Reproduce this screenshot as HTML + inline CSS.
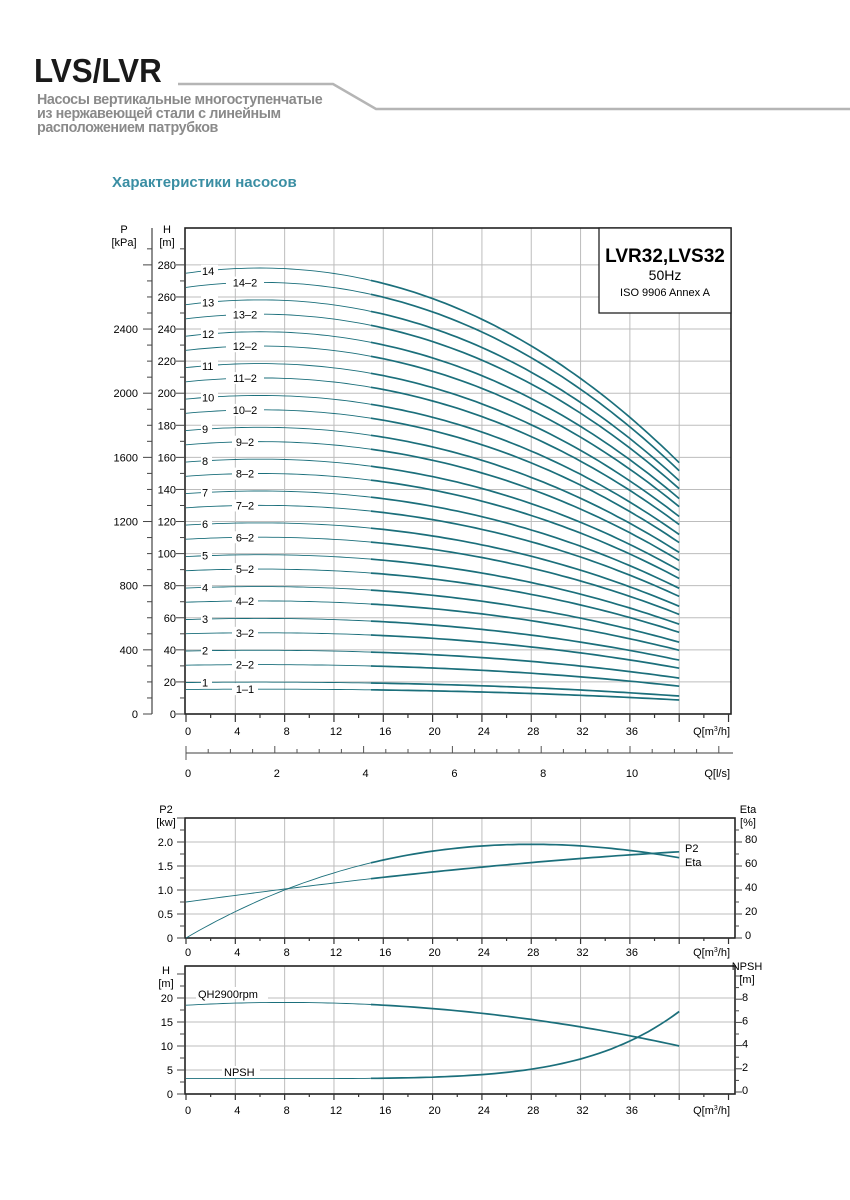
<!DOCTYPE html>
<html><head><meta charset="utf-8">
<style>
html,body{margin:0;padding:0;background:#fff;}
body{width:850px;height:1200px;position:relative;overflow:hidden;font-family:"Liberation Sans",sans-serif;}
.t{position:absolute;white-space:nowrap;}
</style></head>
<body>
<div class="t" style="left:34px;top:52px;font-size:33px;font-weight:bold;color:#1a1a1a;transform:scaleX(0.95);transform-origin:left;">LVS/LVR</div>
<svg style="position:absolute;left:0;top:0" width="850" height="200">
<polyline points="178,84 333,84 376,109 850,109" fill="none" stroke="#b5b5b5" stroke-width="2.5"/>
</svg>
<div class="t" style="left:37px;top:93px;font-size:14.3px;font-weight:bold;color:#8a8a8a;line-height:14px;letter-spacing:-0.4px;">Насосы вертикальные многоступенчатые<br>из нержавеющей стали с линейным<br>расположением патрубков</div>
<div class="t" style="left:112px;top:174px;font-size:15px;font-weight:bold;color:#3a8ea3;">Характеристики насосов</div>
<svg id="s" style="position:absolute;left:0;top:0" width="850" height="1200" font-family="Liberation Sans, sans-serif"></svg>
<script>
var s=document.getElementById('s'),h='';
var C='#1b6f7b';
function X(q){return 186+q*12.33;}
function L(x1,y1,x2,y2,c,w){h+='<line x1="'+x1+'" y1="'+y1+'" x2="'+x2+'" y2="'+y2+'" stroke="'+c+'" stroke-width="'+w+'"/>';}
function T(x,y,t,sz,anc,extra){h+='<text x="'+x+'" y="'+y+'" font-size="'+sz+'" text-anchor="'+(anc||'start')+'" '+(extra||'')+'>'+t+'</text>';}
function path(f,yf,q0,q1,w){var d='';for(var q=q0;q<=q1+1e-9;q+=0.5){d+=(d?'L':'M')+X(q).toFixed(1)+','+yf(f(q)).toFixed(1);}h+='<path d="'+d+'" fill="none" stroke="'+C+'" stroke-width="'+w+'"/>';}
function curve(f,yf){path(f,yf,0,15,0.9);path(f,yf,15,40,1.7);}
// ===== main chart
var Y=function(H){return 714-H*1.604;};
var gray='#bdbdbd';
for(var q=4;q<=40;q+=4)L(X(q),228,X(q),714,gray,1);
for(var H=20;H<=280;H+=20)L(185,Y(H),731,Y(H),gray,1);
h+='<rect x="185" y="228" width="546" height="486" fill="none" stroke="#222" stroke-width="1.6"/>';
for(var H=0;H<=290;H+=10){L(H%20?180:176,Y(H),185,Y(H),'#444',1);}
for(var H=0;H<=280;H+=20)T(176,Y(H)+4,H,11,'end');
T(167,233,'H',11,'middle');T(167,246,'[m]',11,'middle');
L(152,228,152,714,'#444',1.2);
for(var P=0;P<=2900;P+=100){var y=714-P*0.1604;L(P%400?147:143,y,152,y,'#444',1);}
for(var P=0;P<=2400;P+=400)T(138,714-P*0.1604+4,P,11,'end');
T(124,233,'P',11,'middle');T(124,246,'[kPa]',11,'middle');
for(var q=0;q<=44;q+=2)L(X(q),714,X(q),q%4?718:722,'#333',1.2);
for(var q=0;q<=36;q+=4)T(X(q)+2,735,q,11,'middle');
T(730,735,'Q[m<tspan font-size="7" dy="-4">3</tspan><tspan dy="4">/h]</tspan>',11,'end');
L(186,753,733,753,'#666',1.2);
for(var k=0;k<=12;k+=0.5){var x=186+k*44.4;if(x>734)break;L(x,753,x,k%2?749:746,'#555',1);}
L(186,746,186,760,'#555',1);
for(var k=0;k<=10;k+=2)T(186+k*44.4+2,777,k,11,'middle');
T(730,777,'Q[l/s]',11,'end');
function g(q){var d=q-6;return 1-0.00033*d*d-0.0000014*d*d*d;}
var unit=19.86;
for(var n=1;n<=14;n++){
 (function(n){
  curve(function(q){return n*unit*g(q);},Y);
  var m=(n==1)?0.78:(n-0.45);
  curve(function(q){return m*unit*g(q);},Y);
 })(n);
}
for(var n=1;n<=14;n++){
 var y1=Y(n*unit*g(1.6)),y2=Y((n==1?0.78:n-0.45)*unit*g(4.8));
 h+='<rect x="201" y="'+(y1-6)+'" width="'+(n>9?17:11)+'" height="12" fill="#fff"/>';
 T(202,y1+4,n,11);
 var lb=n==1?'1–1':n+'–2';
 var wd=n>9?38:26;
 h+='<rect x="'+(245-wd/2)+'" y="'+(y2-6)+'" width="'+wd+'" height="12" fill="#fff"/>';
 T(245,y2+4,lb,11,'middle');
}
h+='<rect x="599" y="228" width="132" height="85" fill="#fff" stroke="#222" stroke-width="1.3"/>';
T(665,262,'LVR32,LVS32',19,'middle','font-weight="bold"');
T(665,280,'50Hz',14,'middle');
T(665,296,'ISO 9906 Annex A',11,'middle');
// ===== P2/Eta chart
var Y2=function(v){return 938-v*48;};
for(var q=4;q<=40;q+=4)L(X(q),818,X(q),938,gray,1);
for(var v=0.5;v<=2;v+=0.5)L(185,Y2(v),735,Y2(v),gray,1);
h+='<rect x="185" y="818" width="550" height="120" fill="none" stroke="#222" stroke-width="1.6"/>';
for(var v=0;v<=2.5;v+=0.25)L(v%0.5?180:177,Y2(v),185,Y2(v),'#444',1);
['0','0.5','1.0','1.5','2.0'].forEach(function(t,i){T(173,Y2(i*0.5)+4,t,11,'end');});
T(166,813,'P2',11,'middle');T(166,826,'[kw]',11,'middle');
for(var e=0;e<=90;e+=10){var y=938-e*1.2;L(735,y,e%20?739:742,y,'#444',1);}
for(var e=0;e<=80;e+=20)T(745,938-e*1.2+1,e,11);
T(748,813,'Eta',11,'middle');T(748,826,'[%]',11,'middle');
for(var q=0;q<=44;q+=2)L(X(q),938,X(q),q%4?941:944,'#333',1.2);
for(var q=0;q<=36;q+=4)T(X(q)+2,956,q,11,'middle');
T(730,956,'Q[m<tspan font-size="7" dy="-4">3</tspan><tspan dy="4">/h]</tspan>',11,'end');
function p2(q){return 0.1503*q-0.003267*q*q+0.00001387*q*q*q;}
function eta(q){return 0.75+0.0352*q-0.00017*q*q-0.0000014*q*q*q;}
curve(p2,Y2);
curve(eta,Y2);
T(685,852,'P2',11);T(685,866,'Eta',11);
// ===== QH / NPSH chart
var Y3=function(v){return 1094-v*4.8;};
for(var q=4;q<=40;q+=4)L(X(q),966,X(q),1094,gray,1);
for(var v=5;v<=20;v+=5)L(185,Y3(v),735,Y3(v),gray,1);
h+='<rect x="185" y="966" width="550" height="128" fill="none" stroke="#222" stroke-width="1.6"/>';
for(var v=0;v<=25;v+=2.5)L(v%5?180:177,Y3(v),185,Y3(v),'#444',1);
for(var v=0;v<=20;v+=5)T(173,Y3(v)+4,v,11,'end');
T(166,974,'H',11,'middle');T(166,987,'[m]',11,'middle');
for(var e=0;e<=10;e+=1){var y=1092-e*11.6;if(y<966)break;L(735,y,e%2?739:742,y,'#444',1);}
for(var e=0;e<=8;e+=2)T(742,1092-e*11.6+2,e,11);
T(747,970,'NPSH',11,'middle');T(747,983,'[m]',11,'middle');
for(var q=0;q<=44;q+=2)L(X(q),1094,X(q),q%4?1097:1100,'#333',1.2);
for(var q=0;q<=36;q+=4)T(X(q)+2,1114,q,11,'middle');
T(730,1114,'Q[m<tspan font-size="7" dy="-4">3</tspan><tspan dy="4">/h]</tspan>',11,'end');
curve(function(q){return 18.5+0.1425*q-0.008875*q*q;},Y3);
curve(function(q){return 3.2+2.16e-8*Math.pow(q,5.5);},Y3);
h+='<rect x="196" y="987" width="72" height="12" fill="#fff"/>';
T(198,998,'QH2900rpm',11);
h+='<rect x="222" y="1066" width="38" height="12" fill="#fff"/>';
T(224,1076,'NPSH',11);
s.innerHTML=h;
</script>
</body></html>
